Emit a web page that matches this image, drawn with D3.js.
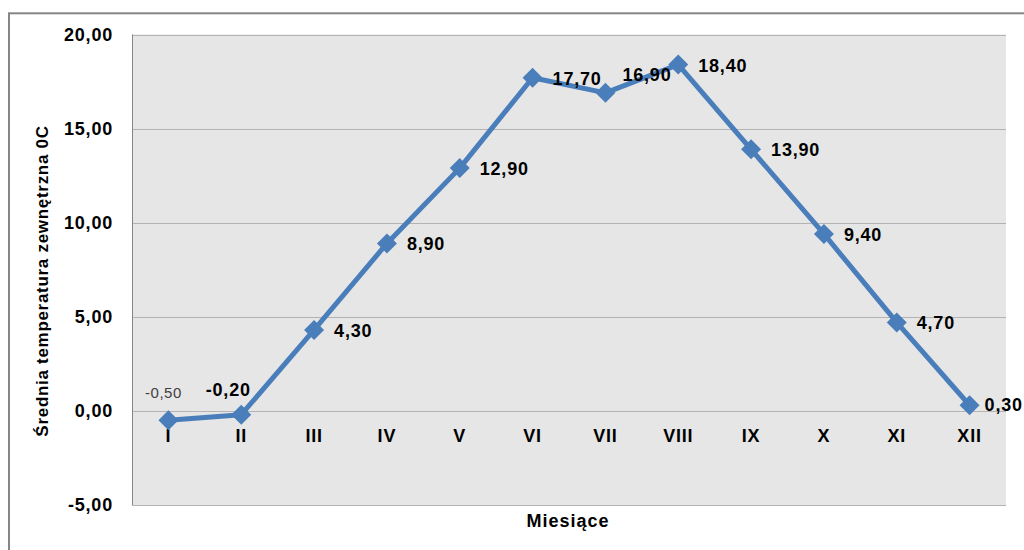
<!DOCTYPE html>
<html>
<head>
<meta charset="utf-8">
<script src="https://cdn.jsdelivr.net/npm/d3@7"></script>
<style>
  html, body { margin: 0; padding: 0; background: #ffffff; }
  svg { display: block; font-family: "Liberation Sans", Arial, sans-serif; }
</style>
</head>
<body>
<svg id="chart" width="1024" height="550"></svg>
<script>
// ---- data ----
const categories = ["I", "II", "III", "IV", "V", "VI", "VII", "VIII", "IX", "X", "XI", "XII"];
const temperatures = [-0.5, -0.2, 4.3, 8.9, 12.9, 17.7, 16.9, 18.4, 13.9, 9.4, 4.7, 0.3];
const yTicks = [-5, 0, 5, 10, 15, 20];
const yAxisTitle = "Średnia temperatura zewnętrzna 0C";
const xAxisTitle = "Miesiące";

// ---- layout ----
const W = 1024, H = 550;
const plot = { left: 132, right: 1006, top: 34.5, bottom: 505 };

const svg = d3.select("#chart");
const locale = d3.formatLocale({ decimal: ",", thousands: " ", grouping: [3], currency: ["", ""], minus: "-" });
const fmt = locale.format(".2f");

const x = d3.scaleBand().domain(categories).range([plot.left, plot.right]).padding(0);
const y = d3.scaleLinear().domain([-5, 20]).range([plot.bottom, plot.top]);
const cx = c => x(c) + x.bandwidth() / 2;

// outer chart border
svg.append("rect")
  .attr("x", 9).attr("y", 13.3).attr("width", 1100).attr("height", 700)
  .attr("fill", "none").attr("stroke", "#868686").attr("stroke-width", 2);

// plot background
svg.append("rect")
  .attr("x", plot.left).attr("y", plot.top)
  .attr("width", plot.right - plot.left).attr("height", plot.bottom - plot.top)
  .attr("fill", "#e6e6e6");

// gridlines
svg.append("g").selectAll("line").data(yTicks).join("line")
  .attr("x1", plot.left).attr("x2", plot.right)
  .attr("y1", d => Math.round(y(d)) + 0.5).attr("y2", d => Math.round(y(d)) + 0.5)
  .attr("stroke", "#b3b3b3").attr("stroke-width", 1.2);

// y axis line
svg.append("line")
  .attr("x1", plot.left + 0.5).attr("x2", plot.left + 0.5)
  .attr("y1", plot.top).attr("y2", plot.bottom)
  .attr("stroke", "#868686").attr("stroke-width", 1);

// y tick labels
svg.append("g").selectAll("text").data(yTicks).join("text")
  .attr("x", 113).attr("y", d => y(d))
  .attr("text-anchor", "end").attr("dominant-baseline", "central")
  .attr("font-size", 18).attr("font-weight", "bold").attr("letter-spacing", 0.8)
  .attr("fill", "#000")
  .text(d => fmt(d));

// category labels (next to the zero line)
svg.append("g").selectAll("text").data(categories).join("text")
  .attr("x", d => cx(d)).attr("y", y(0) + 25)
  .attr("text-anchor", "middle").attr("dominant-baseline", "central")
  .attr("font-size", 18).attr("font-weight", "bold").attr("letter-spacing", 0.8)
  .attr("fill", "#000")
  .text(d => d);

// axis titles
svg.append("text")
  .attr("x", 568).attr("y", 527)
  .attr("text-anchor", "middle")
  .attr("font-size", 18).attr("font-weight", "bold").attr("letter-spacing", 1)
  .attr("fill", "#000")
  .text(xAxisTitle);

svg.append("text")
  .attr("transform", "translate(48," + 281 + ") rotate(-90)")
  .attr("text-anchor", "middle")
  .attr("font-size", 17).attr("font-weight", "bold").attr("letter-spacing", 0.7)
  .attr("fill", "#000")
  .text(yAxisTitle);

// series
const pts = categories.map((c, i) => ({ c, v: temperatures[i], i }));
const line = d3.line().x(d => cx(d.c)).y(d => y(d.v));

svg.append("path")
  .datum(pts)
  .attr("d", line)
  .attr("fill", "none").attr("stroke", "#4a7ebb")
  .attr("stroke-width", 5).attr("stroke-linejoin", "round");

const diamond = "M0,-10L10,0L0,10L-10,0Z";
svg.append("g").selectAll("path").data(pts).join("path")
  .attr("transform", d => `translate(${cx(d.c)},${y(d.v)})`)
  .attr("d", diamond)
  .attr("fill", "#4a7ebb");

// data labels
const placement = { "I": "top-light", "II": "top", "VII": "upper-right", "XII": "right-near" };
svg.append("g").selectAll("text").data(pts).join("text")
  .each(function (d) {
    const p = placement[d.c] || "right";
    const t = d3.select(this);
    const px = cx(d.c), py = y(d.v);
    t.attr("dominant-baseline", "central").attr("letter-spacing", 0.8).attr("fill", "#000");
    if (p === "top-light") {
      t.attr("x", px - 5).attr("y", py - 28).attr("text-anchor", "middle")
       .attr("font-size", 15).attr("font-weight", "normal").attr("fill", "#404040").attr("letter-spacing", 0.5);
    } else if (p === "top") {
      t.attr("x", px - 13).attr("y", py - 25).attr("text-anchor", "middle")
       .attr("font-size", 18).attr("font-weight", "bold");
    } else if (p === "upper-right") {
      t.attr("x", px + 17).attr("y", py - 18).attr("text-anchor", "start")
       .attr("font-size", 18).attr("font-weight", "bold");
    } else if (p === "right-near") {
      t.attr("x", px + 15).attr("y", py).attr("text-anchor", "start")
       .attr("font-size", 18).attr("font-weight", "bold");
    } else {
      t.attr("x", px + 20).attr("y", py + 1).attr("text-anchor", "start")
       .attr("font-size", 18).attr("font-weight", "bold");
    }
  })
  .text(d => fmt(d.v));
</script>
</body>
</html>
